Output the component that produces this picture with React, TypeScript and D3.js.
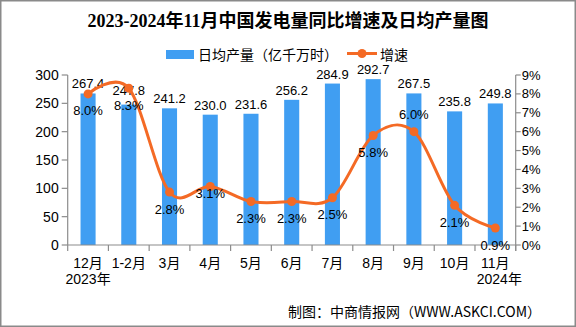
import React from "react";
import * as d3 from "d3";

const title = "2023-2024年11月中国发电量同比增速及日均产量图";
const categories = ["12月", "1-2月", "3月", "4月", "5月", "6月", "7月", "8月", "9月", "10月", "11月"];
const yearNotes = ["2023年", "", "", "", "", "", "", "", "", "", "2024年"];
const dailyOutput = [267.4, 247.8, 241.2, 230.0, 231.6, 256.2, 284.9, 292.7, 267.5, 235.8, 249.8];
const growthRate = [8.0, 8.3, 2.8, 3.1, 2.3, 2.3, 2.5, 5.8, 6.0, 2.1, 0.9];
const growthLabelSide = ["below", "below", "below", "near", "below", "below", "below", "below", "above", "below", "below"];
const barLabelRaised = [false, true, false, false, false, false, false, false, false, false, false];
const leftTicks = [0, 50, 100, 150, 200, 250, 300];
const rightTicks = [0, 1, 2, 3, 4, 5, 6, 7, 8, 9];
const barName = "日均产量（亿千万时）";
const lineName = "增速";
const footer = "制图：中商情报网（WWW.ASKCI.COM）";

const W = 576;
const H = 327;
const left = 67.7;
const right = 515.7;
const top = 75;
const bottom = 245;
const BLUE = "#409EF2";
const ORANGE = "#F46A25";
const AXIS = "#8c8c8c";
const NUM_FONT = "'Liberation Sans', 'Noto Sans CJK SC', sans-serif";
const CJK_FONT = "'Noto Sans CJK SC', sans-serif";

export default function App() {
  const x = d3
    .scaleBand<string>()
    .domain(categories)
    .range([left, right])
    .paddingInner(0.63)
    .paddingOuter(0.315);
  const step = x.step();
  const yL = d3.scaleLinear().domain([0, 300]).range([bottom, top]);
  const yR = d3.scaleLinear().domain([0, 9]).range([bottom, top]);
  const cx = (c: string) => (x(c) as number) + x.bandwidth() / 2;

  const line = d3
    .line<number>()
    .x((_, i) => cx(categories[i]))
    .y((d) => yR(d))
    .curve(d3.curveCardinal.tension(0));

  return (
    <div style={{ position: "fixed", left: 0, top: 0 }}>
      <svg width={W} height={H} style={{ display: "block", background: "#fff" }}>
        <rect x={0.75} y={0.75} width={W - 1.5} height={H - 1.5} fill="#fff" stroke="#8a8a8a" strokeWidth={1.5} />
        <text
          x={W / 2}
          y={27}
          textAnchor="middle"
          fontSize={18}
          fontWeight="bold"
          fontFamily="'Liberation Serif', 'Noto Sans CJK SC', serif"
          fill="#000"
        >
          {title}
        </text>

        {/* legend */}
        <rect x={166} y={50} width={28} height={9} fill={BLUE} />
        <text x={198} y={60} fontSize={14} fontFamily={CJK_FONT} fill="#000">
          {barName}
        </text>
        <line x1={347} x2={377} y1={53.5} y2={53.5} stroke={ORANGE} strokeWidth={3} />
        <circle cx={362} cy={53.5} r={4.5} fill={ORANGE} />
        <text x={380} y={60} fontSize={14} fontFamily={CJK_FONT} fill="#000">
          {lineName}
        </text>

        {/* bars */}
        {dailyOutput.map((v, i) => (
          <rect
            key={"b" + i}
            x={x(categories[i])}
            y={yL(v)}
            width={x.bandwidth()}
            height={bottom - yL(v)}
            fill={BLUE}
          />
        ))}

        {/* axes */}
        <line x1={left} x2={left} y1={top} y2={bottom} stroke={AXIS} strokeWidth={1.2} />
        <line x1={right} x2={right} y1={top} y2={bottom + 6} stroke={AXIS} strokeWidth={1.2} />
        <line x1={left} x2={right} y1={bottom} y2={bottom} stroke={AXIS} strokeWidth={1.2} />
        {leftTicks.map((t) => (
          <g key={"lt" + t}>
            <line x1={left - 6} x2={left} y1={yL(t)} y2={yL(t)} stroke={AXIS} strokeWidth={1.2} />
            <text
              x={left - 9}
              y={yL(t)}
              dy="0.35em"
              textAnchor="end"
              fontSize={14}
              fontFamily={NUM_FONT}
              fill="#000"
            >
              {t}
            </text>
          </g>
        ))}
        {rightTicks.map((t) => (
          <g key={"rt" + t}>
            <line x1={right} x2={right + 5} y1={yR(t)} y2={yR(t)} stroke={AXIS} strokeWidth={1.2} />
            <text x={right + 6} y={yR(t)} dy="0.35em" fontSize={13} fontFamily={NUM_FONT} fill="#000">
              {t + "%"}
            </text>
          </g>
        ))}
        {d3.range(categories.length + 1).map((i) => (
          <line
            key={"xt" + i}
            x1={left + i * step}
            x2={left + i * step}
            y1={bottom}
            y2={bottom + 6}
            stroke={AXIS}
            strokeWidth={1.2}
          />
        ))}
        {categories.map((c, i) => (
          <g key={"xl" + i}>
            <text x={cx(c)} y={268} textAnchor="middle" fontSize={14} fontFamily={NUM_FONT} fill="#000">
              {c}
            </text>
            {yearNotes[i] && (
              <text
                x={cx(c) + (i === categories.length - 1 ? 4 : 0)}
                y={284}
                textAnchor="middle"
                fontSize={14}
                fontFamily={NUM_FONT}
                fill="#000"
              >
                {yearNotes[i]}
              </text>
            )}
          </g>
        ))}

        {/* bar labels */}
        {dailyOutput.map((v, i) => (
          <text
            key={"bl" + i}
            x={cx(categories[i])}
            y={yL(v) - (barLabelRaised[i] ? 10 : 5)}
            textAnchor="middle"
            fontSize={13}
            fontFamily={NUM_FONT}
            fill="#000"
          >
            {v.toFixed(1)}
          </text>
        ))}

        {/* line */}
        <path d={line(growthRate) || ""} fill="none" stroke={ORANGE} strokeWidth={3} />
        {growthRate.map((v, i) => (
          <circle key={"p" + i} cx={cx(categories[i])} cy={yR(v)} r={4.5} fill={ORANGE} />
        ))}
        {growthRate.map((v, i) => {
          const side = growthLabelSide[i];
          const off = side === "above" ? -13 : side === "near" ? 12 : 21.5;
          return (
            <text
              key={"gl" + i}
              x={cx(categories[i])}
              y={yR(v) + off}
              textAnchor="middle"
              fontSize={13}
              fontFamily={NUM_FONT}
              fill="#000"
            >
              {v.toFixed(1) + "%"}
            </text>
          );
        })}

        <text x={288} y={317} fontSize={14} fontFamily={CJK_FONT} fill="#000">
          {footer}
        </text>
      </svg>
    </div>
  );
}
